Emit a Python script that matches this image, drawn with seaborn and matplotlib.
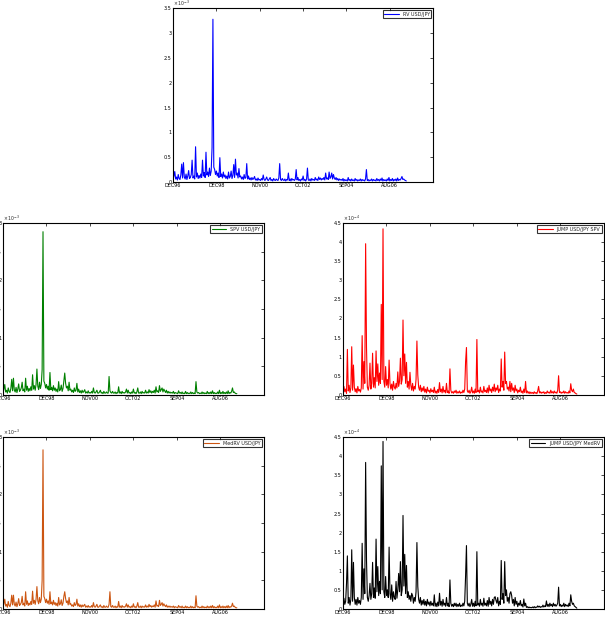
import numpy as np
import matplotlib
matplotlib.use("Agg")
import matplotlib.pyplot as plt
import seaborn as sns

obs = np.arange(0, 2700, 10)

tick_pos = [0, 500, 1000, 1500, 2000, 2500]
tick_labels = ["DEC96", "DEC98", "NOV00", "OCT02", "SEP04", "AUG06"]

# realized variance, x 1e-3
rv = [0.05, 0.12, 0.21, 0.06, 0.10, 0.04, 0.15, 0.07, 0.05, 0.14,
      0.36, 0.08, 0.39, 0.10, 0.06, 0.16, 0.05, 0.12, 0.23, 0.07,
      0.09, 0.15, 0.44, 0.08, 0.12, 0.06, 0.71, 0.10, 0.18, 0.07,
      0.13, 0.08, 0.16, 0.09, 0.44, 0.12, 0.19, 0.09, 0.60, 0.14,
      0.20, 0.11, 0.28, 0.13, 0.22, 0.69, 3.28, 0.30, 0.25, 0.15,
      0.22, 0.12, 0.18, 0.09, 0.49, 0.11, 0.16, 0.08, 0.20, 0.10,
      0.14, 0.07, 0.12, 0.06, 0.20, 0.08, 0.11, 0.22, 0.07, 0.13,
      0.35, 0.09, 0.46, 0.14, 0.18, 0.08, 0.27, 0.10, 0.12, 0.06,
      0.10, 0.05, 0.15, 0.07, 0.09, 0.37, 0.06, 0.12, 0.05, 0.08,
      0.04, 0.09, 0.05, 0.07, 0.11, 0.04, 0.06, 0.03, 0.08, 0.04,
      0.05, 0.03, 0.07, 0.04, 0.14, 0.05, 0.03, 0.06, 0.10, 0.04,
      0.03, 0.06, 0.09, 0.03, 0.05, 0.02, 0.07, 0.04, 0.03, 0.06,
      0.04, 0.03, 0.08, 0.37, 0.05, 0.03, 0.07, 0.04, 0.03, 0.06,
      0.02, 0.05, 0.04, 0.18, 0.03, 0.06, 0.02, 0.07, 0.04, 0.05,
      0.03, 0.06, 0.25, 0.04, 0.09, 0.03, 0.05, 0.02, 0.06, 0.04,
      0.12, 0.03, 0.05, 0.02, 0.06, 0.28, 0.04, 0.03, 0.06, 0.02,
      0.07, 0.04, 0.05, 0.03, 0.09, 0.04, 0.06, 0.03, 0.10, 0.05,
      0.08, 0.04, 0.07, 0.05, 0.09, 0.04, 0.18, 0.06, 0.08, 0.05,
      0.20, 0.07, 0.10, 0.18, 0.06, 0.15, 0.08, 0.05, 0.09, 0.04,
      0.07, 0.03, 0.06, 0.04, 0.05, 0.03, 0.07, 0.02, 0.05, 0.03,
      0.04, 0.02, 0.09, 0.03, 0.05, 0.02, 0.06, 0.03, 0.04, 0.02,
      0.07, 0.03, 0.05, 0.02, 0.04, 0.03, 0.06, 0.02, 0.05, 0.03,
      0.04, 0.02, 0.06, 0.25, 0.03, 0.05, 0.02, 0.04, 0.03, 0.06,
      0.02, 0.05, 0.03, 0.04, 0.02, 0.07, 0.03, 0.05, 0.02, 0.06,
      0.03, 0.08, 0.02, 0.05, 0.03, 0.04, 0.02, 0.06, 0.03, 0.09,
      0.02, 0.05, 0.03, 0.07, 0.02, 0.05, 0.03, 0.06, 0.02, 0.08,
      0.03, 0.05, 0.04, 0.07, 0.11, 0.05, 0.06, 0.04, 0.03, 0.02]

# bipower variation, x 1e-3
spv = [0.04, 0.10, 0.18, 0.05, 0.08, 0.03, 0.12, 0.06, 0.04, 0.11,
       0.27, 0.07, 0.29, 0.08, 0.05, 0.13, 0.04, 0.10, 0.19, 0.06,
       0.08, 0.12, 0.22, 0.07, 0.10, 0.05, 0.29, 0.08, 0.15, 0.06,
       0.11, 0.07, 0.14, 0.08, 0.35, 0.10, 0.16, 0.08, 0.18, 0.45,
       0.15, 0.09, 0.22, 0.11, 0.18, 0.44, 2.85, 0.24, 0.20, 0.12,
       0.18, 0.10, 0.15, 0.08, 0.39, 0.09, 0.13, 0.07, 0.16, 0.08,
       0.12, 0.06, 0.10, 0.05, 0.23, 0.07, 0.09, 0.17, 0.06, 0.11,
       0.25, 0.38, 0.20, 0.12, 0.15, 0.07, 0.22, 0.08, 0.10, 0.05,
       0.08, 0.04, 0.12, 0.06, 0.08, 0.20, 0.05, 0.10, 0.04, 0.07,
       0.03, 0.08, 0.04, 0.06, 0.09, 0.03, 0.05, 0.03, 0.07, 0.03,
       0.04, 0.03, 0.06, 0.03, 0.12, 0.04, 0.03, 0.05, 0.08, 0.03,
       0.03, 0.05, 0.08, 0.03, 0.04, 0.02, 0.06, 0.03, 0.03, 0.05,
       0.03, 0.03, 0.32, 0.07, 0.04, 0.03, 0.06, 0.03, 0.03, 0.05,
       0.02, 0.04, 0.03, 0.14, 0.03, 0.05, 0.02, 0.06, 0.03, 0.04,
       0.03, 0.05, 0.10, 0.03, 0.08, 0.03, 0.04, 0.02, 0.05, 0.03,
       0.10, 0.03, 0.04, 0.02, 0.05, 0.12, 0.03, 0.03, 0.05, 0.02,
       0.06, 0.03, 0.04, 0.03, 0.08, 0.03, 0.05, 0.03, 0.09, 0.04,
       0.07, 0.03, 0.06, 0.04, 0.08, 0.03, 0.14, 0.05, 0.07, 0.04,
       0.16, 0.06, 0.09, 0.12, 0.05, 0.10, 0.07, 0.04, 0.08, 0.03,
       0.06, 0.03, 0.05, 0.03, 0.04, 0.03, 0.06, 0.02, 0.04, 0.03,
       0.03, 0.02, 0.07, 0.03, 0.04, 0.02, 0.05, 0.02, 0.03, 0.02,
       0.06, 0.02, 0.04, 0.02, 0.03, 0.02, 0.05, 0.02, 0.04, 0.02,
       0.03, 0.02, 0.23, 0.05, 0.03, 0.04, 0.02, 0.03, 0.02, 0.05,
       0.02, 0.04, 0.02, 0.03, 0.02, 0.06, 0.02, 0.04, 0.02, 0.05,
       0.02, 0.07, 0.02, 0.04, 0.02, 0.03, 0.02, 0.05, 0.02, 0.08,
       0.02, 0.04, 0.02, 0.06, 0.02, 0.04, 0.02, 0.05, 0.02, 0.07,
       0.02, 0.04, 0.03, 0.06, 0.12, 0.04, 0.05, 0.03, 0.02, 0.02]

# median realized variance, x 1e-3
medrv = [0.04, 0.09, 0.17, 0.05, 0.08, 0.03, 0.13, 0.06, 0.04, 0.10,
         0.24, 0.07, 0.24, 0.08, 0.05, 0.12, 0.04, 0.09, 0.18, 0.06,
         0.08, 0.11, 0.22, 0.07, 0.10, 0.05, 0.30, 0.08, 0.14, 0.06,
         0.10, 0.07, 0.13, 0.08, 0.31, 0.10, 0.15, 0.08, 0.17, 0.39,
         0.14, 0.09, 0.20, 0.11, 0.17, 0.50, 2.78, 0.22, 0.18, 0.11,
         0.17, 0.10, 0.14, 0.08, 0.30, 0.09, 0.12, 0.07, 0.15, 0.08,
         0.11, 0.06, 0.10, 0.05, 0.20, 0.07, 0.09, 0.16, 0.06, 0.10,
         0.22, 0.30, 0.18, 0.11, 0.14, 0.07, 0.20, 0.08, 0.09, 0.05,
         0.07, 0.04, 0.11, 0.06, 0.08, 0.17, 0.05, 0.09, 0.04, 0.07,
         0.03, 0.07, 0.04, 0.06, 0.08, 0.03, 0.05, 0.03, 0.06, 0.03,
         0.04, 0.03, 0.06, 0.03, 0.11, 0.04, 0.03, 0.05, 0.08, 0.03,
         0.03, 0.05, 0.07, 0.03, 0.04, 0.02, 0.06, 0.03, 0.03, 0.05,
         0.03, 0.03, 0.08, 0.30, 0.04, 0.03, 0.06, 0.03, 0.03, 0.05,
         0.02, 0.04, 0.03, 0.13, 0.03, 0.05, 0.02, 0.06, 0.03, 0.04,
         0.03, 0.05, 0.09, 0.03, 0.07, 0.03, 0.04, 0.02, 0.05, 0.03,
         0.09, 0.03, 0.04, 0.02, 0.05, 0.11, 0.03, 0.03, 0.05, 0.02,
         0.05, 0.03, 0.04, 0.03, 0.07, 0.03, 0.05, 0.03, 0.08, 0.04,
         0.06, 0.03, 0.05, 0.04, 0.07, 0.03, 0.14, 0.05, 0.06, 0.04,
         0.15, 0.06, 0.08, 0.11, 0.05, 0.09, 0.06, 0.04, 0.07, 0.03,
         0.05, 0.03, 0.05, 0.03, 0.04, 0.03, 0.05, 0.02, 0.04, 0.03,
         0.03, 0.02, 0.06, 0.03, 0.04, 0.02, 0.05, 0.02, 0.03, 0.02,
         0.05, 0.02, 0.04, 0.02, 0.03, 0.02, 0.05, 0.02, 0.04, 0.02,
         0.03, 0.02, 0.23, 0.05, 0.03, 0.04, 0.02, 0.03, 0.02, 0.05,
         0.02, 0.04, 0.02, 0.03, 0.02, 0.05, 0.02, 0.04, 0.02, 0.05,
         0.02, 0.06, 0.02, 0.04, 0.02, 0.03, 0.02, 0.05, 0.02, 0.07,
         0.02, 0.04, 0.02, 0.05, 0.02, 0.04, 0.02, 0.05, 0.02, 0.06,
         0.02, 0.04, 0.03, 0.05, 0.10, 0.04, 0.05, 0.03, 0.02, 0.02]

# jump component RV - BPV, x 1e-4
jump_bpv = [0.05, 0.22, 0.08, 0.15, 0.04, 1.19, 0.10, 0.25, 0.06, 0.18,
            1.26, 0.12, 0.78, 0.20, 0.08, 0.16, 0.05, 0.22, 0.10, 0.14,
            0.07, 0.18, 1.55, 0.15, 0.87, 0.30, 3.96, 1.24, 0.20, 0.12,
            0.25, 0.83, 0.15, 0.30, 1.09, 0.20, 0.45, 0.18, 1.15, 0.35,
            0.81, 0.25, 0.57, 0.30, 2.37, 0.40, 4.35, 0.35, 0.20, 0.74,
            0.25, 0.40, 0.18, 0.91, 0.30, 0.15, 0.28, 0.12, 0.35, 0.20,
            0.15, 0.30, 0.18, 0.60, 0.22, 0.35, 0.96, 0.28, 0.40, 1.96,
            0.50, 1.07, 0.30, 0.85, 0.20, 0.35, 0.15, 0.59, 0.25, 0.12,
            0.30, 0.10, 0.22, 0.15, 0.40, 1.41, 0.52, 0.20, 0.12, 0.25,
            0.08, 0.18, 0.10, 0.22, 0.07, 0.15, 0.05, 0.20, 0.09, 0.12,
            0.05, 0.16, 0.08, 0.12, 0.06, 0.20, 0.05, 0.10, 0.04, 0.14,
            0.06, 0.32, 0.08, 0.15, 0.05, 0.22, 0.07, 0.12, 0.05, 0.30,
            0.06, 0.10, 0.04, 0.68, 0.12, 0.05, 0.08, 0.04, 0.10, 0.06,
            0.12, 0.04, 0.08, 0.05, 0.10, 0.04, 0.07, 0.05, 0.12, 0.06,
            0.15, 0.87, 1.24, 0.10, 0.06, 0.12, 0.04, 0.08, 0.20, 0.05,
            0.10, 0.04, 0.15, 0.06, 1.45, 0.08, 0.12, 0.05, 0.20, 0.07,
            0.10, 0.05, 0.22, 0.08, 0.12, 0.06, 0.18, 0.05, 0.25, 0.10,
            0.15, 0.06, 0.20, 0.10, 0.28, 0.08, 0.18, 0.12, 0.25, 0.06,
            0.15, 0.10, 0.94, 0.20, 0.35, 0.12, 1.12, 0.30, 0.35, 0.15,
            0.20, 0.10, 0.35, 0.08, 0.30, 0.12, 0.18, 0.06, 0.25, 0.10,
            0.15, 0.05, 0.12, 0.08, 0.20, 0.06, 0.10, 0.04, 0.15, 0.06,
            0.35, 0.05, 0.10, 0.04, 0.08, 0.03, 0.07, 0.04, 0.06, 0.03,
            0.08, 0.04, 0.06, 0.03, 0.10, 0.22, 0.05, 0.08, 0.04, 0.07,
            0.05, 0.08, 0.03, 0.06, 0.04, 0.10, 0.05, 0.07, 0.04, 0.12,
            0.05, 0.08, 0.04, 0.10, 0.05, 0.07, 0.04, 0.12, 0.50, 0.06,
            0.08, 0.04, 0.07, 0.05, 0.10, 0.04, 0.08, 0.05, 0.06, 0.04,
            0.10, 0.05, 0.29, 0.12, 0.08, 0.15, 0.06, 0.05, 0.03, 0.02]

# jump component RV - MedRV, x 1e-4
jump_med = [0.10, 0.28, 0.12, 0.20, 0.67, 1.39, 0.15, 0.30, 0.10, 0.25,
            1.55, 0.20, 1.22, 0.30, 0.12, 0.25, 0.10, 0.30, 0.15, 0.22,
            0.12, 0.30, 1.72, 0.25, 1.05, 0.40, 3.84, 1.28, 0.30, 0.20,
            0.35, 0.67, 0.25, 0.40, 1.22, 0.30, 0.55, 0.28, 1.83, 0.45,
            1.11, 0.35, 0.72, 0.40, 3.75, 0.50, 4.39, 0.45, 0.30, 0.85,
            0.35, 0.50, 0.30, 1.62, 0.40, 0.25, 0.63, 0.20, 0.45, 0.30,
            0.25, 0.72, 0.28, 0.50, 0.93, 0.45, 1.24, 0.35, 0.50, 2.45,
            0.60, 1.43, 0.40, 1.14, 0.30, 0.45, 0.25, 0.35, 0.20, 0.41,
            0.35, 0.15, 0.30, 0.20, 0.45, 1.74, 0.59, 0.25, 0.15, 0.30,
            0.10, 0.22, 0.12, 0.25, 0.10, 0.20, 0.08, 0.25, 0.12, 0.18,
            0.08, 0.20, 0.10, 0.15, 0.08, 0.37, 0.07, 0.15, 0.06, 0.18,
            0.08, 0.41, 0.10, 0.20, 0.07, 0.25, 0.10, 0.15, 0.07, 0.30,
            0.08, 0.15, 0.06, 0.76, 0.15, 0.07, 0.12, 0.06, 0.15, 0.08,
            0.15, 0.06, 0.12, 0.07, 0.15, 0.06, 0.10, 0.07, 0.15, 0.08,
            0.20, 0.87, 1.66, 0.15, 0.08, 0.15, 0.06, 0.12, 0.25, 0.07,
            0.15, 0.06, 0.20, 0.08, 1.50, 0.10, 0.15, 0.07, 0.25, 0.10,
            0.15, 0.07, 0.28, 0.10, 0.15, 0.08, 0.22, 0.07, 0.30, 0.12,
            0.20, 0.08, 0.25, 0.12, 0.30, 0.32, 0.22, 0.15, 0.30, 0.08,
            0.20, 0.12, 1.27, 0.25, 0.40, 0.15, 1.24, 0.35, 0.50, 0.20,
            0.30, 0.15, 0.40, 0.45, 0.35, 0.15, 0.25, 0.08, 0.30, 0.12,
            0.20, 0.06, 0.15, 0.10, 0.22, 0.08, 0.12, 0.05, 0.26, 0.08,
            0.15, 0.04, 0.06, 0.03, 0.05, 0.03, 0.04, 0.03, 0.05, 0.03,
            0.06, 0.03, 0.05, 0.04, 0.08, 0.05, 0.07, 0.04, 0.06, 0.05,
            0.10, 0.05, 0.08, 0.06, 0.21, 0.07, 0.12, 0.06, 0.15, 0.08,
            0.12, 0.06, 0.15, 0.08, 0.12, 0.07, 0.10, 0.15, 0.57, 0.08,
            0.12, 0.06, 0.10, 0.07, 0.15, 0.06, 0.12, 0.08, 0.10, 0.06,
            0.15, 0.08, 0.37, 0.20, 0.12, 0.15, 0.08, 0.06, 0.04, 0.02]

sns.set_style("white")
plt.rcParams["font.family"] = ["DejaVu Sans"]

fig = plt.figure(figsize=(6.05, 6.43), dpi=100)

panels = [
    # axes rect, data, color, label, ymax, exponent
    ([0.286, 0.717, 0.430, 0.270], rv, "#0000ff", "RV USD/JPY", 3.5, -3),
    ([0.005, 0.386, 0.431, 0.267], spv, "#008000", "SPV USD/JPY", 3.0, -3),
    ([0.567, 0.386, 0.431, 0.267], jump_bpv, "#ff0000", "JUMP USD/JPY SPV", 4.5, -4),
    ([0.005, 0.053, 0.431, 0.267], medrv, "#cc5511", "MedRV USD/JPY", 3.0, -3),
    ([0.567, 0.053, 0.431, 0.267], jump_med, "#000000", "JUMP USD/JPY MedRV", 4.5, -4),
]

for rect, vals, col, lab, ymax, ex in panels:
    ax = fig.add_axes(rect)
    sns.lineplot(x=obs, y=vals, ax=ax, color=col, linewidth=0.8, label=lab)
    ax.set_xlim(0, 3000)
    ax.set_ylim(0, ymax)
    ax.set_xticks(tick_pos)
    ax.set_xticklabels(tick_labels)
    yt = np.arange(0, ymax + 0.01, 0.5)
    ax.set_yticks(yt)
    ax.set_yticklabels(["%g" % v for v in yt])
    ax.tick_params(direction="in", length=2.5, width=0.5, labelsize=3.5,
                   top=True, right=True, pad=1.0, colors="black")
    for s in ax.spines.values():
        s.set_color("black")
        s.set_linewidth(0.8)
    ax.set_xlabel("")
    ax.set_ylabel("")
    ax.text(0.0, 1.0, r"$\times\,10^{%d}$" % ex, transform=ax.transAxes,
            fontsize=3.3, ha="left", va="bottom")
    leg = ax.legend(loc="upper right", fontsize=3.5, frameon=True,
                    fancybox=False, borderpad=0.3, handlelength=3,
                    borderaxespad=0.4)
    leg.get_frame().set_edgecolor("black")
    leg.get_frame().set_linewidth(0.8)

fig.savefig("out.png", dpi=100)
